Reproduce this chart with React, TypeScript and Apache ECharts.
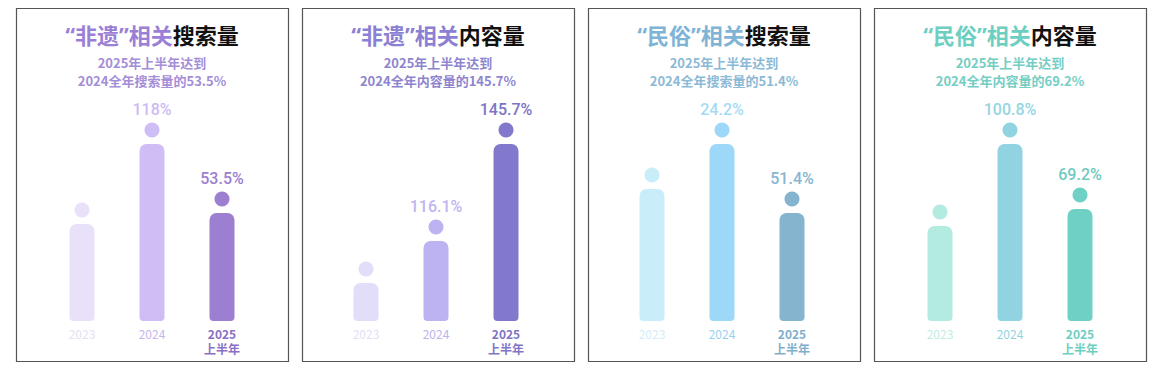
import React, { useEffect, useRef } from "react";
import * as echarts from "echarts";

// ---- data ----
const categories = ["2023", "2024", "2025\n上半年"];
const titleTopic = ["非遗", "非遗", "民俗", "民俗"];
const titleRelated = "相关";
const titleMain = ["搜索量", "内容量", "搜索量", "内容量"];
const subtitles = [
  "2025年上半年达到\n2024全年搜索量的53.5%",
  "2025年上半年达到\n2024全年内容量的145.7%",
  "2025年上半年达到\n2024全年搜索量的51.4%",
  "2025年上半年达到\n2024全年内容量的69.2%",
];
// relative bar heights (index)
const ichSearch = [97, 177, 108];
const ichContent = [38, 80, 177];
const folkSearch = [132, 177, 108];
const folkContent = [95, 177, 112];
const ichSearchLabels = ["", "118%", "53.5%"];
const ichContentLabels = ["", "116.1%", "145.7%"];
const folkSearchLabels = ["", "24.2%", "51.4%"];
const folkContentLabels = ["", "100.8%", "69.2%"];

const seriesValues = [ichSearch, ichContent, folkSearch, folkContent];
const seriesLabels = [ichSearchLabels, ichContentLabels, folkSearchLabels, folkContentLabels];

// ---- styles ----
const barColors = [
  ["#e9e1f9", "#cfbdf6", "#9c7fd0"],
  ["#e2ddf8", "#bdb3f2", "#8379cc"],
  ["#c9eefa", "#9dd8f8", "#85b4cf"],
  ["#b4ebe0", "#92d3e1", "#6fd0c5"],
];
const labelColors = [
  ["#e9e1f9", "#cdbaf2", "#9c80d0"],
  ["#e2ddf8", "#bfb5f0", "#7d74c8"],
  ["#c9eefa", "#a3dbf5", "#86b6d0"],
  ["#b4ebe0", "#95d5e3", "#6fcbc0"],
];
const axisColors = [
  ["#e6e0f5", "#c6b6ec", "#8a70c4"],
  ["#e3def5", "#bdb3ee", "#7f75c6"],
  ["#cfeef8", "#97d1f0", "#80afcb"],
  ["#bfece3", "#92d3df", "#6ccfc2"],
];
const accentColors = ["#9b7fd6", "#8b80d3", "#7fb4d6", "#6dcfc2"];
const subColors = ["#a48ed8", "#8e85cf", "#8bbad6", "#74cec3"];

const PANEL_LEFT = [16, 302, 588, 874];
const PANEL_W = 272;
const PANEL_TOP = 8;
const PANEL_H = 353;
const GRID_LEFT = [47, 331, 617, 905];
const FONT_CJK = '"Noto Sans CJK SC", "Noto Sans", sans-serif';
const FONT_LATIN = '"Noto Sans", "DejaVu Sans", sans-serif';

export default function App() {
  const ref = useRef<HTMLDivElement>(null);

  useEffect(() => {
    if (!ref.current) return;
    const chart = echarts.init(ref.current, undefined, { renderer: "svg" });

    const grids: any[] = [];
    const xAxes: any[] = [];
    const yAxes: any[] = [];
    const series: any[] = [];
    const graphics: any[] = [];

    for (let i = 0; i < 4; i++) {
      grids.push({ left: GRID_LEFT[i], width: 210, top: 121, height: 200 });
      xAxes.push({
        type: "category",
        gridIndex: i,
        data: categories.map((c, j) => ({
          value: c,
          textStyle: {
            color: axisColors[i][j],
            fontWeight: j === 2 ? "bold" : "normal",
          },
        })),
        axisLine: { show: false },
        axisTick: { show: false },
        axisLabel: {
          margin: 5,
          fontSize: 12,
          lineHeight: 15,
          fontFamily: FONT_CJK,
          interval: 0,
        },
      });
      yAxes.push({
        type: "value",
        gridIndex: i,
        min: 0,
        max: 200,
        show: false,
        splitLine: { show: false },
      });
      const vals = seriesValues[i];
      series.push({
        type: "bar",
        xAxisIndex: i,
        yAxisIndex: i,
        barWidth: 25,
        data: vals.map((v, j) => ({
          value: v,
          itemStyle: { color: barColors[i][j], borderRadius: [7, 7, 4, 4] },
        })),
      });
      const pi = i;
      series.push({
        type: "custom",
        xAxisIndex: i,
        yAxisIndex: i,
        encode: { x: 0, y: 1 },
        data: vals.map((v, j) => [j, v]),
        renderItem: (params: any, api: any) => {
          const idx = api.value(0);
          const p = api.coord([idx, api.value(1)]);
          const children: any[] = [
            {
              type: "circle",
              shape: { cx: p[0], cy: p[1] - 14, r: 7.5 },
              style: { fill: barColors[pi][idx] },
            },
          ];
          const lbl = seriesLabels[pi][idx];
          if (lbl) {
            children.push({
              type: "text",
              x: p[0],
              y: p[1] - 35,
              style: {
                text: lbl,
                fill: labelColors[pi][idx],
                font: '500 16px Roboto, "Noto Sans", sans-serif',
                align: "center",
                verticalAlign: "middle",
              },
            });
          }
          return { type: "group", children };
        },
      });

      const cx = PANEL_LEFT[i] + PANEL_W / 2;
      graphics.push({
        type: "rect",
        shape: { x: PANEL_LEFT[i] + 0.5, y: PANEL_TOP + 0.5, width: PANEL_W, height: PANEL_H },
        style: { fill: "none", stroke: "#555555", lineWidth: 1.2 },
        silent: true,
      });
      graphics.push({
        type: "text",
        x: cx,
        y: 34,
        style: {
          text: `{q|“}{a|${titleTopic[i]}}{q|”}{a|${titleRelated}}{b|${titleMain[i]}}`,
          align: "center",
          verticalAlign: "middle",
          rich: {
            q: { fill: accentColors[i], fontSize: 22, fontWeight: "bold", fontFamily: FONT_LATIN },
            a: { fill: accentColors[i], fontSize: 22, fontWeight: "bold", fontFamily: FONT_CJK },
            b: { fill: "#111111", fontSize: 22, fontWeight: "bold", fontFamily: FONT_CJK },
          },
        },
      });
      graphics.push({
        type: "text",
        x: cx,
        y: 71,
        style: {
          text: subtitles[i],
          align: "center",
          verticalAlign: "middle",
          fill: subColors[i],
          fontSize: 13,
          fontWeight: "bold",
          fontFamily: FONT_CJK,
          lineHeight: 18,
        },
      });
    }

    chart.setOption({
      animation: false,
      backgroundColor: "#ffffff",
      grid: grids,
      xAxis: xAxes,
      yAxis: yAxes,
      series,
      graphic: graphics,
    });

    return () => chart.dispose();
  }, []);

  return (
    <div
      ref={ref}
      style={{ position: "absolute", left: 0, top: 0, width: 1162, height: 376 }}
    />
  );
}
